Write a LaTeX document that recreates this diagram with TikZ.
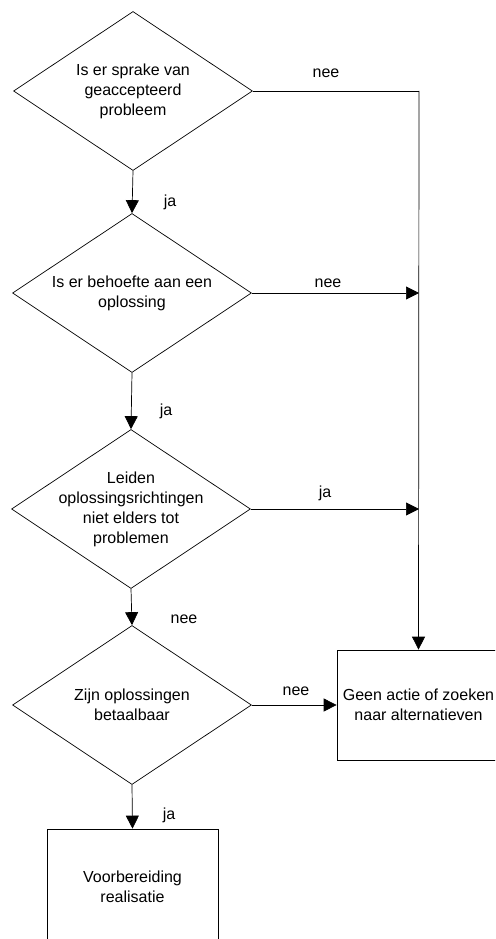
\documentclass[tikz,border=0pt]{standalone}
\usepackage{fontspec}
\setmainfont{Liberation Sans}
\usetikzlibrary{shapes.geometric}
\usetikzlibrary{arrows.meta}

\begin{document}
\begin{tikzpicture}[x=1pt,y=-1pt]
\tikzstyle{decision}=[diamond,draw,line width=0.7pt,minimum width=239pt,minimum height=159pt,inner sep=0pt]
\tikzstyle{block}=[rectangle,draw,line width=0.7pt,minimum width=163pt,minimum height=110pt,inner sep=0pt]
\tikzstyle{txt}=[align=center,font=\fontsize{16}{20}\selectfont,inner sep=0pt]
\tikzstyle{arr}=[line width=0.7pt,-{Triangle[length=13pt,width=13pt]}]
\tikzstyle{line}=[line width=0.7pt]
\useasboundingbox (0,0) rectangle (495,939);
\clip (0,0) rectangle (495,939);

% beslissingen
\node[decision, label={[txt]center:Is er sprake van\\geaccepteerd\\probleem}] at (133,91) (d1) {};
\node[decision, label={[txt]center:Is er behoefte aan een\\oplossing}] at (132,293) (d2) {};
\node[decision, label={[txt]center:Leiden\\oplossingsrichtingen\\niet elders tot\\problemen}] at (131,509) (d3) {};
\node[decision, label={[txt]center:Zijn oplossingen\\betaalbaar}] at (132,705) (d4) {};

% uitkomsten
\node[block, label={[txt]center:Geen actie of zoeken\\naar alternatieven}] at (418.5,705) (geen) {};
\node[block, minimum width=171pt, minimum height=116pt, label={[txt]center:Voorbereiding\\realisatie}] at (132.5,887) (voorb) {};

\coordinate (c1) at (419,91);
\coordinate (c2) at (419,293);
\coordinate (c3) at (419,509);

% ja-tak
\draw[arr] (d1.south) -- (d2.north);
\draw[arr] (d2.south) -- (d3.north);
\draw[arr] (d3.south) -- (d4.north);
\draw[arr] (d4.south) -- (voorb.north);

% nee-tak
\draw[line] (d1.east) -- (c1);
\draw[arr] (c1) -- (geen.north);
\draw[arr] (d2.east) -- (c2);
\draw[arr] (d3.east) -- (c3);
\draw[arr] (d4.east) -- (geen.west);

\node[txt] at (326,73) (l1) {nee};
\node[txt] at (170,202) (l2) {ja};
\node[txt] at (328,283) (l3) {nee};
\node[txt] at (166,411) (l4) {ja};
\node[txt] at (325,493) (l5) {ja};
\node[txt] at (184,619) (l6) {nee};
\node[txt] at (296,691) (l7) {nee};
\node[txt] at (169,815) (l8) {ja};
\end{tikzpicture}
\end{document}
